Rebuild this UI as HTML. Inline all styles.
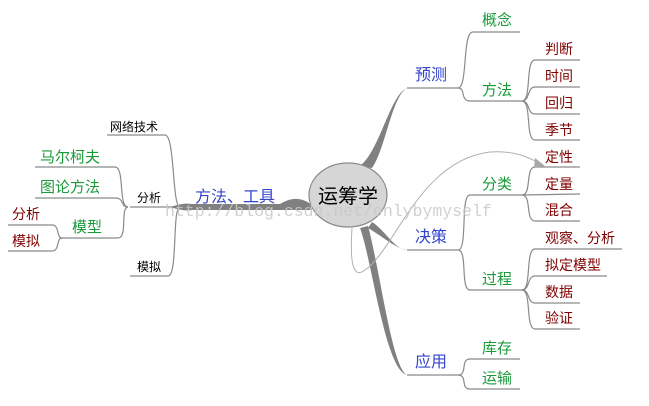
<!DOCTYPE html>
<html><head><meta charset="utf-8"><style>
body{margin:0;background:#fff}
svg text{font-family:"Liberation Sans","Noto Sans CJK SC",sans-serif}
</style></head><body>
<svg width="649" height="401" viewBox="0 0 649 401" xmlns="http://www.w3.org/2000/svg">
<g fill="none" stroke="#8a8a8a" stroke-width="1.2">
<path d="M180,207 C172,207 175,135 165,135 L107,135"/>
<path d="M180,207 L130,207"/>
<path d="M180,207 C172,207 178,276 168,276 L130,276"/>
<path d="M128,207 C118,207 125,167 115,167 L35,167"/>
<path d="M128,207 C120,207 125,198 115,198 L35,198"/>
<path d="M128,207 C120,207 128,238 118,238 L60,238"/>
<path d="M62,238 C56,238 60,225 52,225 L8,225"/>
<path d="M62,238 C56,238 60,251 52,251 L8,251"/>
<path d="M407,88 L458,88 C468,88 462,32 473,32 L520,32"/>
<path d="M458,88 C466,88 460,101 470,101 L522,101"/>
<path d="M522,101 C532,101 525,60 535,60 L580,60"/>
<path d="M522,101 C530,101 527,87 535,87 L580,87"/>
<path d="M522,101 C530,101 527,114 535,114 L580,114"/>
<path d="M522,101 C532,101 525,140 535,140 L580,140"/>
<path d="M407,250 L458,250 C468,250 460,195 470,195 L522,195"/>
<path d="M458,250 C468,250 460,290 470,290 L522,290"/>
<path d="M522,195 C532,195 525,167 535,167 L580,167"/>
<path d="M522,195 L580,194"/>
<path d="M522,195 C532,195 525,221 535,221 L580,221"/>
<path d="M522,290 C532,290 525,249 535,249 L622,249"/>
<path d="M522,290 C530,290 527,276 535,276 L607,276"/>
<path d="M522,290 C530,290 527,303 535,303 L580,303"/>
<path d="M522,290 C532,290 525,329 535,329 L580,329"/>
<path d="M407,375 L458,375 C468,375 460,359 470,359 L520,359"/>
<path d="M458,375 C468,375 460,389 470,389 L520,389"/>
</g>
<g fill="#808080">
<path d="M190,204 L312,204 L312,210 L190,210 Z"/>
<path d="M312,205 C300,196 290,198 280,204 L312,210Z"/>
<path d="M170,207 C180,204 185,203 192,204 L192,210 C185,211 180,210 170,207Z"/>
<path d="M360,166 C380,150 390,95 407,88 C392,96 385,150 372,168Z"/>
<path d="M372,222 C385,230 395,250 407,250 C395,248 385,238 368,228Z"/>
<path d="M360,228 C372,260 385,370 407,375 C392,368 380,270 368,226Z"/>
</g>
<path d="M352,228 C350,260 352,280 365,270 C395,250 420,160 490,152 C515,150 530,158 543,165" fill="none" stroke="#b0b0b0" stroke-width="1"/>
<path d="M545,166 L535,158 L534,168Z" fill="#a8a8a8"/>
<ellipse cx="348" cy="195" rx="39" ry="32" fill="#d6d6d6" stroke="#8a8a8a" stroke-width="1.2"/>
<text x="348" y="203" font-size="20" text-anchor="middle" fill="#000">运筹学</text>
<g font-size="16" fill="#3344cc">
<text x="195" y="202">方法、工具</text>
<text x="415" y="80">预测</text>
<text x="415" y="242">决策</text>
<text x="415" y="367">应用</text>
</g>
<g font-size="12" fill="#000">
<text x="110" y="131">网络技术</text>
<text x="137" y="202">分析</text>
<text x="137" y="271">模拟</text>
</g>
<g font-size="15" fill="#1a9a3a">
<text x="40" y="162">马尔柯夫</text>
<text x="40" y="192">图论方法</text>
<text x="72" y="232">模型</text>
<text x="482" y="25">概念</text>
<text x="482" y="95">方法</text>
<text x="482" y="189">分类</text>
<text x="482" y="284">过程</text>
<text x="482" y="353">库存</text>
<text x="482" y="383">运输</text>
</g>
<g font-size="14" fill="#800000">
<text x="12" y="219">分析</text>
<text x="12" y="246">模拟</text>
<text x="545" y="54">判断</text>
<text x="545" y="81">时间</text>
<text x="545" y="108">回归</text>
<text x="545" y="135">季节</text>
<text x="545" y="162">定性</text>
<text x="545" y="189">定量</text>
<text x="545" y="215">混合</text>
<text x="545" y="243">观察、分析</text>
<text x="545" y="270">拟定模型</text>
<text x="545" y="297">数据</text>
<text x="545" y="323">验证</text>
</g>
<text x="165" y="216" style="font-family:'Liberation Mono',monospace" font-size="16.5" fill="#c8c8c8" opacity="0.85">http://blog.csdn.net/onlybymyself</text>
</svg>
</body></html>
